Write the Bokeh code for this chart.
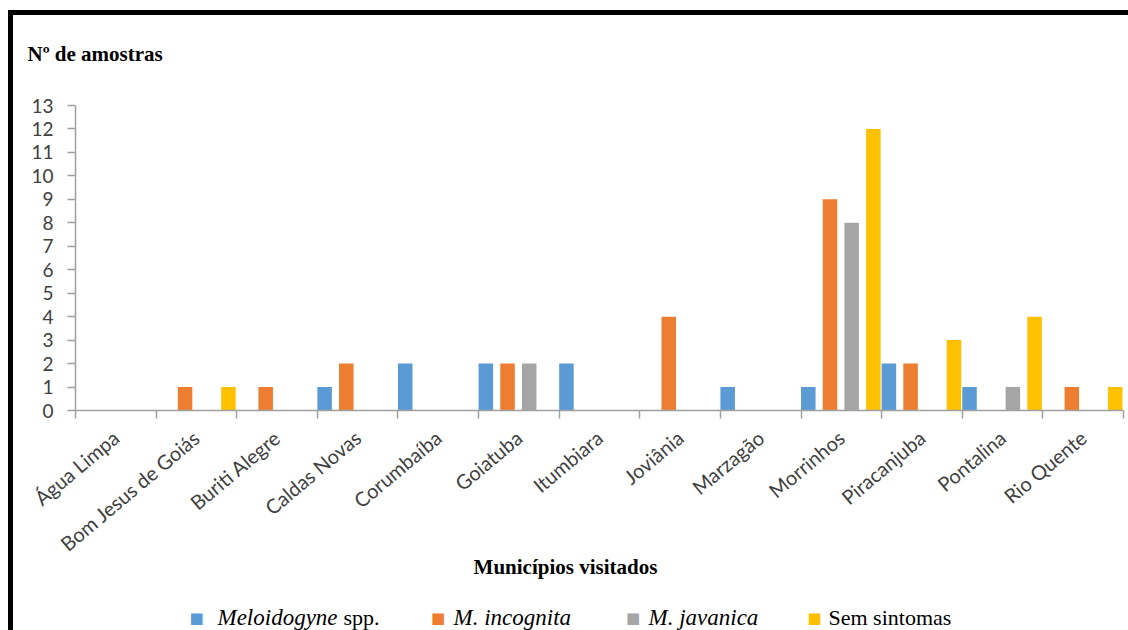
import math
from bokeh.plotting import figure
from bokeh.layouts import column
from bokeh.models import FixedTicker, Range1d, Label, ColumnDataSource
from bokeh.embed import file_html
from bokeh.resources import INLINE

municipios = ["Água Limpa", "Bom Jesus de Goiás", "Buriti Alegre", "Caldas Novas",
              "Corumbaíba", "Goiatuba", "Itumbiara", "Joviânia", "Marzagão",
              "Morrinhos", "Piracanjuba", "Pontalina", "Rio Quente"]
meloidogyne_spp = [0, 0, 0, 1, 2, 2, 2, 0, 1, 1, 2, 1, 0]
m_incognita = [0, 1, 1, 2, 0, 2, 0, 4, 0, 9, 2, 0, 1]
m_javanica = [0, 0, 0, 0, 0, 2, 0, 0, 0, 8, 0, 1, 0]
sem_sintomas = [0, 1, 0, 0, 0, 0, 0, 0, 0, 12, 3, 4, 1]
y_ticks = list(range(0, 14))

series = [meloidogyne_spp, m_incognita, m_javanica, sem_sintomas]
colors = ["#5B9BD5", "#ED7D31", "#A5A5A5", "#FFC000"]
offsets = [0.09, 0.359, 0.628, 0.897]

W = 1115
TOP_H = 70
BORDER_BOTTOM = 190
MAIN_H = 20 + 305 + BORDER_BOTTOM
OVERLAP = 50
BOT_H = 615 - TOP_H - MAIN_H + OVERLAP
serif = "Liberation Serif"


def strip(h):
    f = figure(width=W, height=h, output_backend="svg", toolbar_location=None,
               x_axis_type=None, y_axis_type=None, min_border=0,
               x_range=Range1d(0, 1), y_range=Range1d(0, 1))
    f.outline_line_color = None
    f.background_fill_color = None
    f.border_fill_color = None
    f.xgrid.visible = False
    f.ygrid.visible = False
    f.frame_align = False
    return f


def lab(f, x, y, text, size="21px", style="normal", align="left", color="black",
        font=serif):
    f.add_layout(Label(x=x, y=y, x_units="screen", y_units="screen", text=text,
                       text_font=font, text_font_size=size, text_font_style=style,
                       text_align=align, text_baseline="middle", text_color=color))


# title strip
top = strip(TOP_H)
lab(top, 14, 32, "Nº de amostras", style="bold")

# main chart
p = figure(width=W, height=MAIN_H, output_backend="svg", toolbar_location=None,
           x_range=Range1d(0, len(municipios)), y_range=Range1d(0, 13),
           min_border_left=62, min_border_right=5, min_border_top=20,
           min_border_bottom=BORDER_BOTTOM)
p.frame_align = False
p.outline_line_color = None
p.xgrid.visible = False
p.ygrid.visible = False

for vals, col, off in zip(series, colors, offsets):
    xs = [i + off for i, v in enumerate(vals) if v > 0]
    hs = [v for v in vals if v > 0]
    src = ColumnDataSource(dict(x=xs, top=hs))
    p.vbar(x="x", top="top", width=0.18, bottom=0, source=src,
           fill_color=col, line_color=None)

axis_col = "#a0a0a0"
tick_font = "Lato"

xa = p.xaxis[0]
xa.ticker = FixedTicker(ticks=[i + 0.5 for i in range(len(municipios))],
                        minor_ticks=list(range(len(municipios) + 1)))
xa.major_label_overrides = {i + 0.5: m for i, m in enumerate(municipios)}
xa.major_label_orientation = math.radians(40)
xa.major_tick_out = 0
xa.major_tick_in = 0
xa.minor_tick_out = 8
xa.minor_tick_in = 0
xa.minor_tick_line_color = axis_col
xa.minor_tick_line_width = 1.5
xa.axis_line_color = axis_col
xa.axis_line_width = 1.5
xa.major_label_text_font = tick_font
xa.major_label_text_font_size = "20px"
xa.major_label_text_color = "#404040"
xa.major_label_standoff = 16

ya = p.yaxis[0]
ya.ticker = FixedTicker(ticks=y_ticks, minor_ticks=[])
ya.major_tick_out = 8
ya.major_tick_in = 0
ya.major_tick_line_color = axis_col
ya.major_tick_line_width = 1.5
ya.axis_line_color = axis_col
ya.axis_line_width = 1.5
ya.major_label_text_font = tick_font
ya.major_label_text_font_size = "19px"
ya.major_label_text_color = "#404040"
ya.major_label_standoff = 14

# bottom strip: axis title + legend (overlaps the empty bottom margin of the chart)
bot = strip(BOT_H)
bot.styles = {"margin-top": f"-{OVERLAP}px"}
lab(bot, 552, BOT_H - 16, "Municípios visitados", style="bold", align="center")
leg_y = 13
sq = [183, 424.5, 619.5, 801]
for x, c in zip(sq, colors):
    lab(bot, x, leg_y, "■", size="15px", align="center", color=c, font="DejaVu Sans")
lab(bot, 204, leg_y, "Meloidogyne", style="italic", size="23px")
lab(bot, 330, leg_y, "spp.", size="22px")
lab(bot, 440, leg_y, "M. incognita", style="italic", size="23px")
lab(bot, 635, leg_y, "M. javanica", style="italic", size="23px")
lab(bot, 815, leg_y, "Sem sintomas", size="22px")

layout = column(top, p, bot, spacing=0)
layout.styles = {"border-left": "5px solid black", "border-top": "5px solid black",
                 "margin-left": "8px", "margin-top": "10px"}

open("out.html", "w").write(file_html(layout, INLINE))
